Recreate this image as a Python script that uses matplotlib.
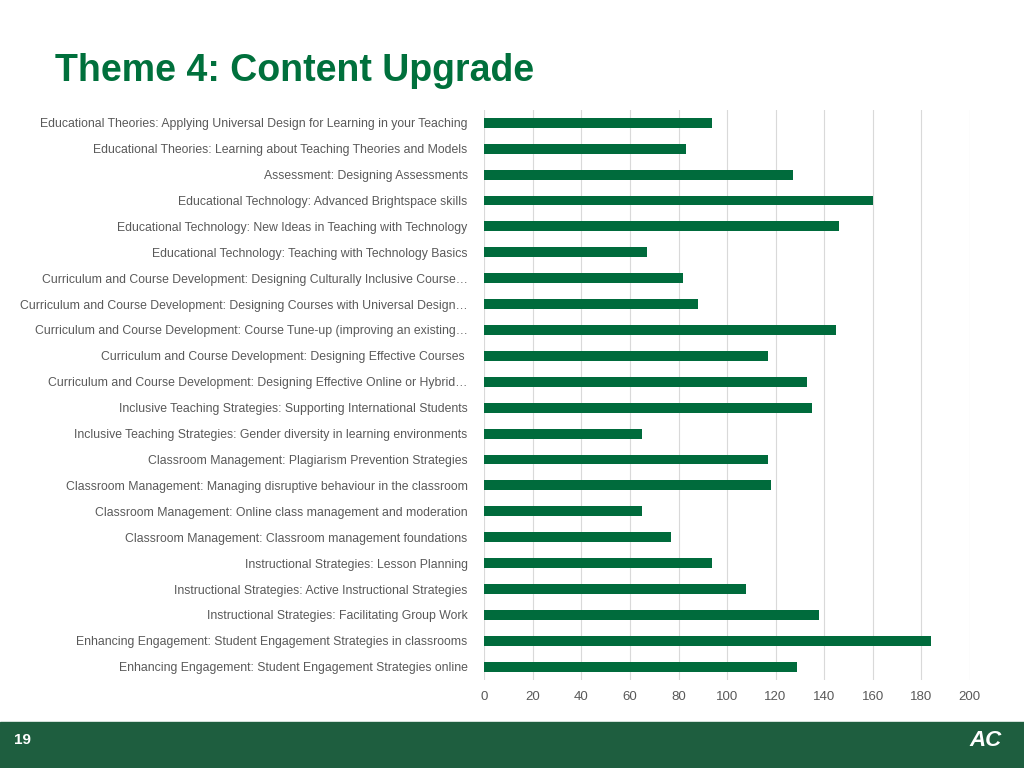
import matplotlib as mpl
mpl.use('Agg')
import matplotlib.pyplot as plt
from matplotlib.patches import Rectangle

plt.rcParams['font.family'] = 'Liberation Sans'

# course topics, top to bottom
labels = [
    "Educational Theories: Applying Universal Design for Learning in your Teaching",
    "Educational Theories: Learning about Teaching Theories and Models",
    "Assessment: Designing Assessments",
    "Educational Technology: Advanced Brightspace skills",
    "Educational Technology: New Ideas in Teaching with Technology",
    "Educational Technology: Teaching with Technology Basics",
    "Curriculum and Course Development: Designing Culturally Inclusive Course\u2026",
    "Curriculum and Course Development: Designing Courses with Universal Design\u2026",
    "Curriculum and Course Development: Course Tune-up (improving an existing\u2026",
    "Curriculum and Course Development: Designing Effective Courses ",
    "Curriculum and Course Development: Designing Effective Online or Hybrid\u2026",
    "Inclusive Teaching Strategies: Supporting International Students",
    "Inclusive Teaching Strategies: Gender diversity in learning environments",
    "Classroom Management: Plagiarism Prevention Strategies",
    "Classroom Management: Managing disruptive behaviour in the classroom",
    "Classroom Management: Online class management and moderation",
    "Classroom Management: Classroom management foundations",
    "Instructional Strategies: Lesson Planning",
    "Instructional Strategies: Active Instructional Strategies",
    "Instructional Strategies: Facilitating Group Work",
    "Enhancing Engagement: Student Engagement Strategies in classrooms",
    "Enhancing Engagement: Student Engagement Strategies online",
]
values = [94, 83, 127, 160, 146, 67, 82, 88, 145, 117, 133, 135, 65,
          117, 118, 65, 77, 94, 108, 138, 184, 129]
xticks = [0, 20, 40, 60, 80, 100, 120, 140, 160, 180, 200]

green = '#006B3C'
fig = plt.figure(figsize=(10.24, 7.68), dpi=100)

# footer band
fig.patches.append(Rectangle((0, 0), 1, 46 / 768, transform=fig.transFigure,
                             color='#1E5E3F', zorder=0))
fig.text(0.014, 0.036, "19", color='white', fontsize=11, fontweight='bold',
         va='center')
fig.text(0.962, 0.036, "AC", color='white', fontsize=16, fontweight='bold',
         fontstyle='italic', va='center', ha='center')

fig.text(0.054, 0.908, "Theme 4: Content Upgrade", color='#00703C',
         fontsize=27, fontweight='bold', va='center')

ax = fig.add_axes([0.473, 0.115, 0.474, 0.742])
ypos = list(range(len(labels)))
ax.barh(ypos, values, height=0.38, color=green, zorder=3)
ax.set_ylim(len(labels) - 0.5, -0.5)
ax.set_yticks(ypos)
ax.set_yticklabels(labels, fontsize=8.8, color='#595959')
ax.set_xlim(0, 200)
ax.set_xticks(xticks)
ax.tick_params(axis='x', labelsize=9.5, labelcolor='#595959', length=0, pad=8)
ax.tick_params(axis='y', length=0, pad=12)
ax.grid(axis='x', color='#D9D9D9', linewidth=0.8, zorder=0)
for s in ax.spines.values():
    s.set_visible(False)

plt.savefig('out.png')
